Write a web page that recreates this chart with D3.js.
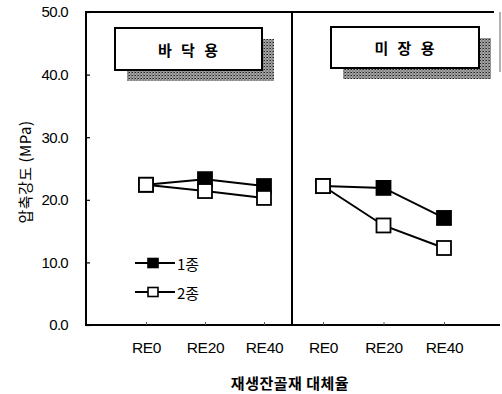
<!DOCTYPE html>
<html><head><meta charset="utf-8">
<script src="https://cdn.jsdelivr.net/npm/d3@7"></script>
<style>
body{margin:0;background:#fff;}
svg{display:block;}
</style></head>
<body>
<svg id="c" width="502" height="394"></svg>
<script>
const categories = ["RE0","RE20","RE40"];
const panels = ["바 닥 용","미 장 용"];
const seriesNames = ["1종","2종"];
const floor1 = [22.4, 23.3, 22.2];
const floor2 = [22.4, 21.4, 20.3];
const plaster1 = [22.2, 21.9, 17.1];
const plaster2 = [22.2, 15.9, 12.3];
const yTicks = [0,10,20,30,40,50];
const yTitle = "압축강도 (MPa)";
const xTitle = "재생잔골재 대체율";

(function(){
const svg = d3.select("#c");
const latin = "'Liberation Sans', Arial, sans-serif";
const kr = "'Noto Sans CJK KR', sans-serif";

const defs = svg.append("defs");
const pat = defs.append("pattern").attr("id","hatch").attr("width",3).attr("height",3).attr("patternUnits","userSpaceOnUse");
pat.append("rect").attr("width",3).attr("height",3).attr("fill","#a8a8a8");
pat.append("rect").attr("x",0).attr("y",0).attr("width",1).attr("height",1).attr("fill","#222");
pat.append("rect").attr("x",1.5).attr("y",1.5).attr("width",1).attr("height",1).attr("fill","#333");
pat.append("rect").attr("x",2).attr("y",0).attr("width",1).attr("height",1).attr("fill","#666");

const pTop = 12, pBottom = 325, pLeft = 86, pMid = 292, pRight = 500;
const y = d3.scaleLinear().domain([0,50]).range([pBottom, pTop]);

const panelDefs = [
  {name: panels[0], s1: floor1, s2: floor2, x: d3.scalePoint().domain(categories).range([146,264]), box:[115,28,147,42]},
  {name: panels[1], s1: plaster1, s2: plaster2, x: d3.scalePoint().domain(categories).range([323,444]), box:[331,27,148,41]}
];

svg.append("line").attr("x1",pLeft).attr("x2",pRight-6).attr("y1",pTop).attr("y2",pTop).attr("stroke","#000").attr("stroke-width",2);
svg.append("line").attr("x1",pRight).attr("x2",pRight).attr("y1",pTop).attr("y2",72).attr("stroke","#999").attr("stroke-width",1.5);
svg.append("line").attr("x1",pLeft).attr("x2",pLeft).attr("y1",pTop-1).attr("y2",pBottom+1).attr("stroke","#000").attr("stroke-width",2);
svg.append("line").attr("x1",pLeft-1).attr("x2",pRight).attr("y1",pBottom).attr("y2",pBottom).attr("stroke","#000").attr("stroke-width",2.2);
svg.append("line").attr("x1",pMid).attr("x2",pMid).attr("y1",pTop).attr("y2",pBottom+1).attr("stroke","#000").attr("stroke-width",2);

const yAxis = d3.axisLeft(y).tickValues(yTicks).tickFormat(d3.format(".1f")).tickSizeInner(-4).tickSizeOuter(0).tickPadding(18);
const ya = svg.append("g").attr("transform",`translate(${pLeft},0)`).call(yAxis);
ya.select(".domain").remove();
ya.selectAll("line").attr("stroke","#000").attr("stroke-width",1.2);
ya.selectAll("text").attr("font-family",latin).attr("font-size",15).attr("letter-spacing","-0.7px").attr("fill","#000");

svg.append("text").attr("transform","translate(24,172) rotate(-90)").attr("text-anchor","middle")
  .attr("dominant-baseline","central").attr("font-family",kr).attr("font-size",15).attr("letter-spacing","0.5px").attr("fill","#000").text(yTitle);

panelDefs.forEach(p => {
  const xa = svg.append("g").attr("transform",`translate(0,${pBottom})`)
    .call(d3.axisBottom(p.x).tickSizeInner(-3).tickSizeOuter(0).tickPadding(17));
  xa.select(".domain").remove();
  xa.selectAll("line").attr("stroke","#555").attr("stroke-width",1);
  xa.selectAll("text").attr("font-family",latin).attr("font-size",15.5).attr("letter-spacing","-0.3px").attr("fill","#000");

  const [bx,by,bw,bh] = p.box;
  svg.append("rect").attr("x",bx+12).attr("y",by+11).attr("width",bw).attr("height",bh).attr("fill","url(#hatch)");
  svg.append("rect").attr("x",bx).attr("y",by).attr("width",bw).attr("height",bh).attr("fill","#fff").attr("stroke","#000").attr("stroke-width",2);
  svg.append("text").attr("x",bx+bw/2+1).attr("y",by+bh/2).attr("text-anchor","middle").attr("dominant-baseline","central")
    .attr("font-family",kr).attr("font-weight","bold").attr("font-size",15).attr("letter-spacing","3px").attr("fill","#000").text(p.name);

  const line = d3.line().x((d,i)=>p.x(categories[i])).y(d=>y(d));
  svg.append("path").datum(p.s2).attr("d",line).attr("fill","none").attr("stroke","#000").attr("stroke-width",2);
  svg.append("path").datum(p.s1).attr("d",line).attr("fill","none").attr("stroke","#000").attr("stroke-width",2);
  const sz = 14;
  [[p.s1,"#000"],[p.s2,"#fff"]].forEach(([s,fill]) => {
    svg.selectAll(null).data(s).enter().append("rect")
      .attr("x",(d,i)=>p.x(categories[i])-sz/2).attr("y",d=>y(d)-sz/2)
      .attr("width",sz).attr("height",sz).attr("fill",fill).attr("stroke","#000").attr("stroke-width",1.8);
  });
});

const legY = [263, 292];
const legFill = ["#000","#fff"];
seriesNames.forEach((n,i) => {
  const g = svg.append("g");
  g.append("line").attr("x1",135).attr("x2",175).attr("y1",legY[i]).attr("y2",legY[i]).attr("stroke","#000").attr("stroke-width",2);
  g.append("rect").attr("x",153-5).attr("y",legY[i]-4.5).attr("width",10).attr("height",9).attr("fill",legFill[i]).attr("stroke","#000").attr("stroke-width",1.6);
  g.append("text").attr("x",177).attr("y",legY[i]).attr("dominant-baseline","central").attr("font-family",kr).attr("font-size",15).attr("fill","#000").text(n);
});

svg.append("text").attr("x",290).attr("y",382).attr("text-anchor","middle").attr("dominant-baseline","central")
  .attr("font-family",kr).attr("font-weight","bold").attr("font-size",15).attr("letter-spacing","0.5px").attr("fill","#000").text(xTitle);
})();
</script>
</body></html>
